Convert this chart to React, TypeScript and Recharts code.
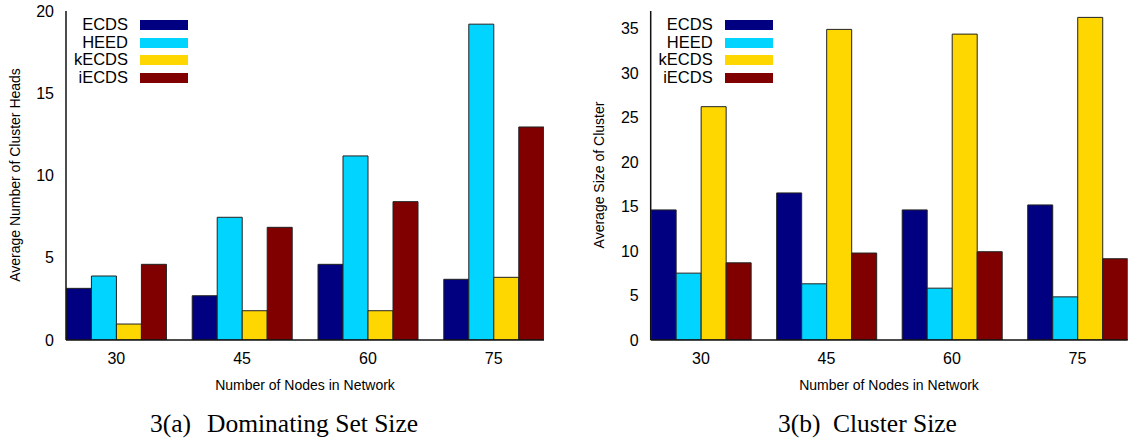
import React from 'react';
import { BarChart, Bar, XAxis, YAxis, Legend } from 'recharts';

const FONT = '"Liberation Sans", Arial, Helvetica, sans-serif';
const SERIF = '"Liberation Serif", "Times New Roman", serif';

const categories = ['30', '45', '60', '75'];
const xIndex = [0, 1, 2, 3];
const seriesNames = ['ECDS', 'HEED', 'kECDS', 'iECDS'];
const seriesColors = ['#000080', '#00d4ff', '#ffd700', '#800000'];

// 3(a) Dominating Set Size: average number of cluster heads
const ecdsHeads = [3.14, 2.69, 4.6, 3.69];
const heedHeads = [3.89, 7.46, 11.19, 19.2];
const kecdsHeads = [0.97, 1.78, 1.78, 3.81];
const iecdsHeads = [4.6, 6.85, 8.41, 12.95];
const headsTicks = [0, 5, 10, 15, 20];

// 3(b) Cluster Size: average size of cluster
const ecdsSize = [14.63, 16.54, 14.63, 15.19];
const heedSize = [7.52, 6.32, 5.83, 4.85];
const kecdsSize = [26.24, 34.93, 34.4, 36.28];
const iecdsSize = [8.68, 9.78, 9.93, 9.14];
const sizeTicks = [0, 5, 10, 15, 20, 25, 30, 35];

const buildData = (cols: number[][]) =>
  xIndex.map((x, i) => ({
    x,
    ECDS: cols[0][i],
    HEED: cols[1][i],
    kECDS: cols[2][i],
    iECDS: cols[3][i],
  }));

const headsData = buildData([ecdsHeads, heedHeads, kecdsHeads, iecdsHeads]);
const sizeData = buildData([ecdsSize, heedSize, kecdsSize, iecdsSize]);

function LegendBox(props: any) {
  const payload = [...(props.payload || [])].sort(
    (a: any, b: any) => seriesNames.indexOf(a.value) - seriesNames.indexOf(b.value)
  );
  return (
    <div style={{ fontFamily: FONT }}>
      {payload.map((p: any) => (
        <div key={p.value} style={{ display: 'flex', alignItems: 'center', height: 17.7 }}>
          <span style={{ width: 62, textAlign: 'right', fontSize: 16.5, lineHeight: '17.7px', color: '#000' }}>
            {p.value}
          </span>
          <span style={{ width: 48, height: 10, marginLeft: 12, background: p.color, display: 'inline-block' }} />
        </div>
      ))}
    </div>
  );
}

const AXIS_STROKE = { stroke: '#111', strokeWidth: 1.5 };

function Panel(props: {
  data: any[];
  yMax: number;
  yTicks: number[];
  left: number;
  width: number;
  marginLeft: number;
  marginRight: number;
}) {
  const { data, yMax, yTicks, left, width, marginLeft, marginRight } = props;
  return (
    <div style={{ position: 'absolute', left, top: 0 }}>
      <BarChart
        width={width}
        height={375}
        data={data}
        margin={{ top: 11, right: marginRight, left: marginLeft, bottom: 0 }}
        barGap={0}
      >
        <XAxis
          xAxisId="b"
          type="number"
          dataKey="x"
          domain={[-0.4, 3.4]}
          allowDataOverflow
          ticks={xIndex}
          interval={0}
          tickFormatter={(v: number) => categories[v]}
          height={35}
          tickLine={false}
          tickSize={6}
          tickMargin={7}
          axisLine={AXIS_STROKE}
          tick={{ fill: '#000', fontSize: 16, fontFamily: FONT }}
        />
        <XAxis
          xAxisId="t"
          orientation="top"
          type="number"
          dataKey="x"
          domain={[-0.4, 3.4]}
          allowDataOverflow
          ticks={xIndex}
          interval={0}
          mirror
          height={0}
          tickSize={4}
          tickFormatter={() => ''}
          tickLine={{ stroke: '#111' }}
          axisLine={AXIS_STROKE}
        />
        <YAxis
          yAxisId="l"
          type="number"
          domain={[0, yMax]}
          allowDataOverflow
          ticks={yTicks}
          interval={0}
          width={50}
          tickLine={false}
          tickSize={6}
          tickMargin={6}
          axisLine={AXIS_STROKE}
          tick={{ fill: '#000', fontSize: 16, fontFamily: FONT }}
        />
        <YAxis
          yAxisId="li"
          orientation="left"
          type="number"
          domain={[0, yMax]}
          allowDataOverflow
          ticks={yTicks}
          interval={0}
          mirror
          width={0}
          tickSize={4}
          tickFormatter={() => ''}
          tickLine={{ stroke: '#111' }}
          axisLine={false}
        />
        <YAxis
          yAxisId="r"
          orientation="right"
          type="number"
          domain={[0, yMax]}
          allowDataOverflow
          ticks={yTicks}
          interval={0}
          mirror
          width={0}
          tickSize={4}
          tickFormatter={() => ''}
          tickLine={{ stroke: '#111' }}
          axisLine={AXIS_STROKE}
        />
        <Legend
          layout="vertical"
          align="center"
          verticalAlign="middle"
          width={130}
          wrapperStyle={{ left: marginLeft + 50, top: 16, width: 130 }}
          content={(p: any) => <LegendBox {...p} />}
        />
        {seriesNames.map((name, i) => (
          <Bar
            key={name}
            xAxisId="b"
            yAxisId="l"
            dataKey={name}
            name={name}
            fill={seriesColors[i]}
            stroke="#222"
            strokeWidth={1}
            barSize={25}
            isAnimationActive={false}
          />
        ))}
      </BarChart>
    </div>
  );
}

export default function App() {
  return (
    <div style={{ position: 'absolute', left: 0, top: 0, width: 1131, height: 440, background: '#fff', fontFamily: FONT }}>
      <Panel data={headsData} yMax={20} yTicks={headsTicks} left={0} width={560} marginLeft={16} marginRight={16} />
      <Panel data={sizeData} yMax={37} yTicks={sizeTicks} left={560} width={571} marginLeft={40.7} marginRight={3.3} />
      <svg width={1131} height={440} style={{ position: 'absolute', left: 0, top: 0, pointerEvents: 'none' }}>
        <g fontFamily={FONT} fontSize={14} fill="#000">
          <text x={15} y={175} transform="rotate(-90 15 175)" textAnchor="middle" dominantBaseline="central">
            Average Number of Cluster Heads
          </text>
          <text x={599} y={175} transform="rotate(-90 599 175)" textAnchor="middle" dominantBaseline="central">
            Average Size of Cluster
          </text>
          <text x={305} y={385} textAnchor="middle" dominantBaseline="central">
            Number of Nodes in Network
          </text>
          <text x={889} y={385} textAnchor="middle" dominantBaseline="central">
            Number of Nodes in Network
          </text>
        </g>
        <g fontFamily={SERIF} fontSize={25.5} fill="#000">
          <text x={150} y={432}>
            3(a)
            <tspan x={207}>Dominating Set Size</tspan>
          </text>
          <text x={778} y={432}>
            3(b)
            <tspan x={833}>Cluster Size</tspan>
          </text>
        </g>
      </svg>
    </div>
  );
}
